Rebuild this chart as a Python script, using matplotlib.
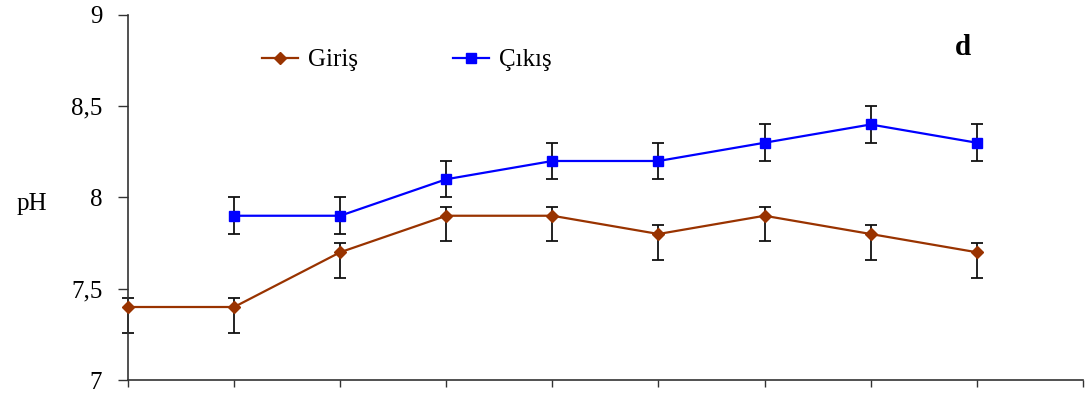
import numpy as np
import matplotlib
matplotlib.use("Agg")
from matplotlib import pyplot as plt
from matplotlib.ticker import FuncFormatter

plt.rcParams["font.family"] = ["Liberation Serif", "DejaVu Serif"]

# Data
x_giris = [0, 1, 2, 3, 4, 5, 6, 7, 8]
giris = [7.4, 7.4, 7.7, 7.9, 7.9, 7.8, 7.9, 7.8, 7.7]
giris_err_low = [0.14, 0.14, 0.14, 0.14, 0.14, 0.14, 0.14, 0.14, 0.14]
giris_err_high = [0.05, 0.05, 0.05, 0.05, 0.05, 0.05, 0.05, 0.05, 0.05]

x_cikis = [1, 2, 3, 4, 5, 6, 7, 8]
cikis = [7.9, 7.9, 8.1, 8.2, 8.2, 8.3, 8.4, 8.3]
cikis_err = [0.1, 0.1, 0.1, 0.1, 0.1, 0.1, 0.1, 0.1]

y_ticks = [7, 7.5, 8, 8.5, 9]

fig = plt.figure(figsize=(10.85, 3.94), dpi=100)
ax = fig.add_axes([0.118, 0.0355, 0.880, 0.9265])

ax.errorbar(x_giris, giris, yerr=[giris_err_low, giris_err_high], fmt="none",
            ecolor="#111111", elinewidth=1.3, capsize=4, capthick=1.3,
            clip_on=False, zorder=2)
ax.errorbar(x_cikis, cikis, yerr=cikis_err, fmt="none",
            ecolor="#111111", elinewidth=1.3, capsize=4, capthick=1.3,
            clip_on=False, zorder=2)
ax.plot(x_giris, giris, color="#993300", lw=1.6, marker="D", ms=6,
        label="Giriş", clip_on=False, zorder=3)
ax.plot(x_cikis, cikis, color="#0000FF", lw=1.6, marker="s", ms=7.5,
        label="Çıkış", clip_on=False, zorder=3)

ax.set_xlim(0, 9)
ax.set_ylim(7, 9)
ax.set_xticks(np.arange(0, 10))
ax.set_xticklabels([])
ax.set_yticks(y_ticks)
ax.yaxis.set_major_formatter(FuncFormatter(lambda v, p: f"{v:g}".replace(".", ",")))
ax.tick_params(axis="y", length=7.5, width=1, labelsize=18, pad=11, colors="#333333", labelcolor="black")
ax.tick_params(axis="x", length=5, width=1, colors="#333333")

for s in ["top", "right"]:
    ax.spines[s].set_visible(False)
for s in ["left", "bottom"]:
    ax.spines[s].set_color("#333333")
    ax.spines[s].set_linewidth(1.2)

ax.set_ylabel("pH", rotation=0, fontsize=18, va="center", ha="center")
ax.yaxis.set_label_coords(-0.101, 0.482)

ax.legend(loc="upper left", bbox_to_anchor=(0.140, 0.907), ncol=2, frameon=False,
          fontsize=18, handlelength=1.45, handletextpad=0.4, columnspacing=3.8,
          borderpad=0, borderaxespad=0)

ax.text(0.874, 0.91, "d", transform=ax.transAxes, fontsize=21, fontweight="bold",
        ha="center", va="center")

fig.savefig("out.png", dpi=100)
